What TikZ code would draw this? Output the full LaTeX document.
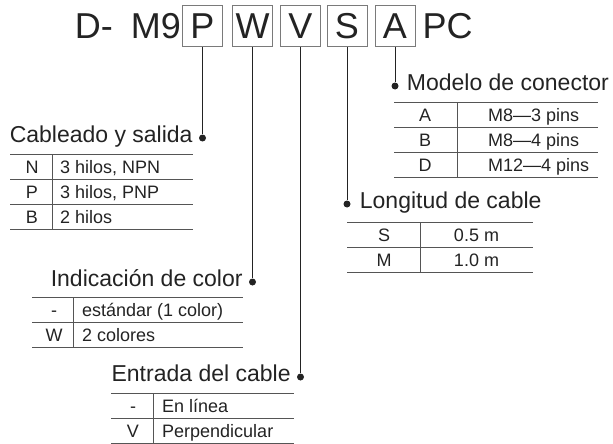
\documentclass[tikz,border=0pt]{standalone}
\usepackage{fontspec}
\setmainfont{Liberation Sans}
\usepackage{tikz}
\usetikzlibrary{positioning}

\definecolor{ink}{HTML}{232323}
\definecolor{rulegray}{HTML}{555555}
\definecolor{boxgray}{HTML}{7A7A7A}

\begin{document}
\begin{tikzpicture}[x=1pt,y=-1pt,
    title/.style={font=\fontsize{36}{40}\selectfont, text=ink, inner sep=0pt},
    letterbox/.style={draw=boxgray, line width=1pt, minimum width=40pt, minimum height=41pt,
      inner sep=0pt, font=\fontsize{36}{40}\selectfont, text=ink},
    dot/.style={circle, fill=ink, inner sep=0pt, minimum size=7pt},
    lbl/.style={font=\fontsize{23}{26}\selectfont, text=ink, inner sep=0pt},
    cell/.style={font=\fontsize{18}{20}\selectfont, text=ink, inner sep=0pt, anchor=base},
    wire/.style={ink, line width=1pt},
    rule/.style={rulegray, line width=0.8pt}]

    \useasboundingbox (0,0) rectangle (613,444);

    % code boxes
    \node[letterbox] (bP) at (202.5,26.5) {P};
    \node[letterbox] (bW) at (252.5,26.5) {W};
    \node[letterbox] (bV) at (300.5,26.5) {V};
    \node[letterbox] (bS) at (347,26.5) {S};
    \node[letterbox] (bA) at (395,26.5) {A};
    \node[title, left=1pt of bP] (dm) {D-\hspace{0.5em}M9};
    \node[title, right=7pt of bA] (pc) {PC};

    % dots
    \node[dot] (dP) at (202.5,138) {};
    \node[dot] (dW) at (252.5,282) {};
    \node[dot] (dV) at (300.5,377) {};
    \node[dot] (dS) at (347,204) {};
    \node[dot] (dA) at (395,86) {};

    % leader lines
    \draw[wire] (bP) -- (dP);
    \draw[wire] (bW) -- (dW);
    \draw[wire] (bV) -- (dV);
    \draw[wire] (bS) -- (dS);
    \draw[wire] (bA) -- (dA);

    % headings
    \node[lbl, left=6pt of dP, anchor=mid east, yshift=-2pt] (lcab) {Cableado y salida};
    \node[lbl, left=6pt of dW, anchor=mid east, yshift=-2pt] (lcol) {Indicación de color};
    \node[lbl, left=6pt of dV, anchor=mid east, yshift=-2pt] (lent) {Entrada del cable};
    \node[lbl, right=9pt of dS, anchor=mid west, yshift=-2pt] (llon) {Longitud de cable};
    \node[lbl, right=8pt of dA, anchor=mid west, yshift=-2pt] (lmod) {Modelo de conector};

    % Cableado y salida table
    \foreach \y in {154,179,204,229} \draw[rule] (10,\y) -- (193,\y);
    \draw[rule] (52,154) -- (52,229);
    \foreach \k/\t [count=\i] in {N/{3 hilos, NPN}, P/{3 hilos, PNP}, B/{2 hilos}} {
      \node[cell] (cabK\i) at (32,154+25*\i-6) {\k};
      \node[cell, anchor=base west] (cabT\i) at (60,154+25*\i-6) {\t};
    }

    % Modelo de conector table
    \foreach \y in {102,127,152,177} \draw[rule] (394,\y) -- (598,\y);
    \draw[rule] (457,102) -- (457,177);
    \foreach \k/\t [count=\i] in {A/M8—3 pins, B/M8—4 pins, D/M12—4 pins} {
      \node[cell] (modK\i) at (425,102+25*\i-6) {\k};
      \node[cell, anchor=base west] (modT\i) at (488,102+25*\i-6) {\t};
    }

    % Longitud de cable table
    \foreach \y in {222,247,272} \draw[rule] (347,\y) -- (533,\y);
    \draw[rule] (420,222) -- (420,272);
    \foreach \k/\t [count=\i] in {S/0.5 m, M/1.0 m} {
      \node[cell] (lonK\i) at (384,222+25*\i-6) {\k};
      \node[cell] (lonT\i) at (476.5,222+25*\i-6) {\t};
    }

    % Indicacion de color table
    \foreach \y in {297,322,347} \draw[rule] (32,\y) -- (243,\y);
    \draw[rule] (73,297) -- (73,347);
    \foreach \k/\t [count=\i] in {-/{estándar (1 color)}, W/2 colores} {
      \node[cell] (colK\i) at (54,297+25*\i-6) {\k};
      \node[cell, anchor=base west] (colT\i) at (82,297+25*\i-6) {\t};
    }

    % Entrada del cable table
    \foreach \y in {393,418,443} \draw[rule] (111,\y) -- (294,\y);
    \draw[rule] (153,393) -- (153,443);
    \foreach \k/\t [count=\i] in {-/En línea, V/Perpendicular} {
      \node[cell] (entK\i) at (133,393+25*\i-6) {\k};
      \node[cell, anchor=base west] (entT\i) at (162,393+25*\i-6) {\t};
    }
\end{tikzpicture}
\end{document}
